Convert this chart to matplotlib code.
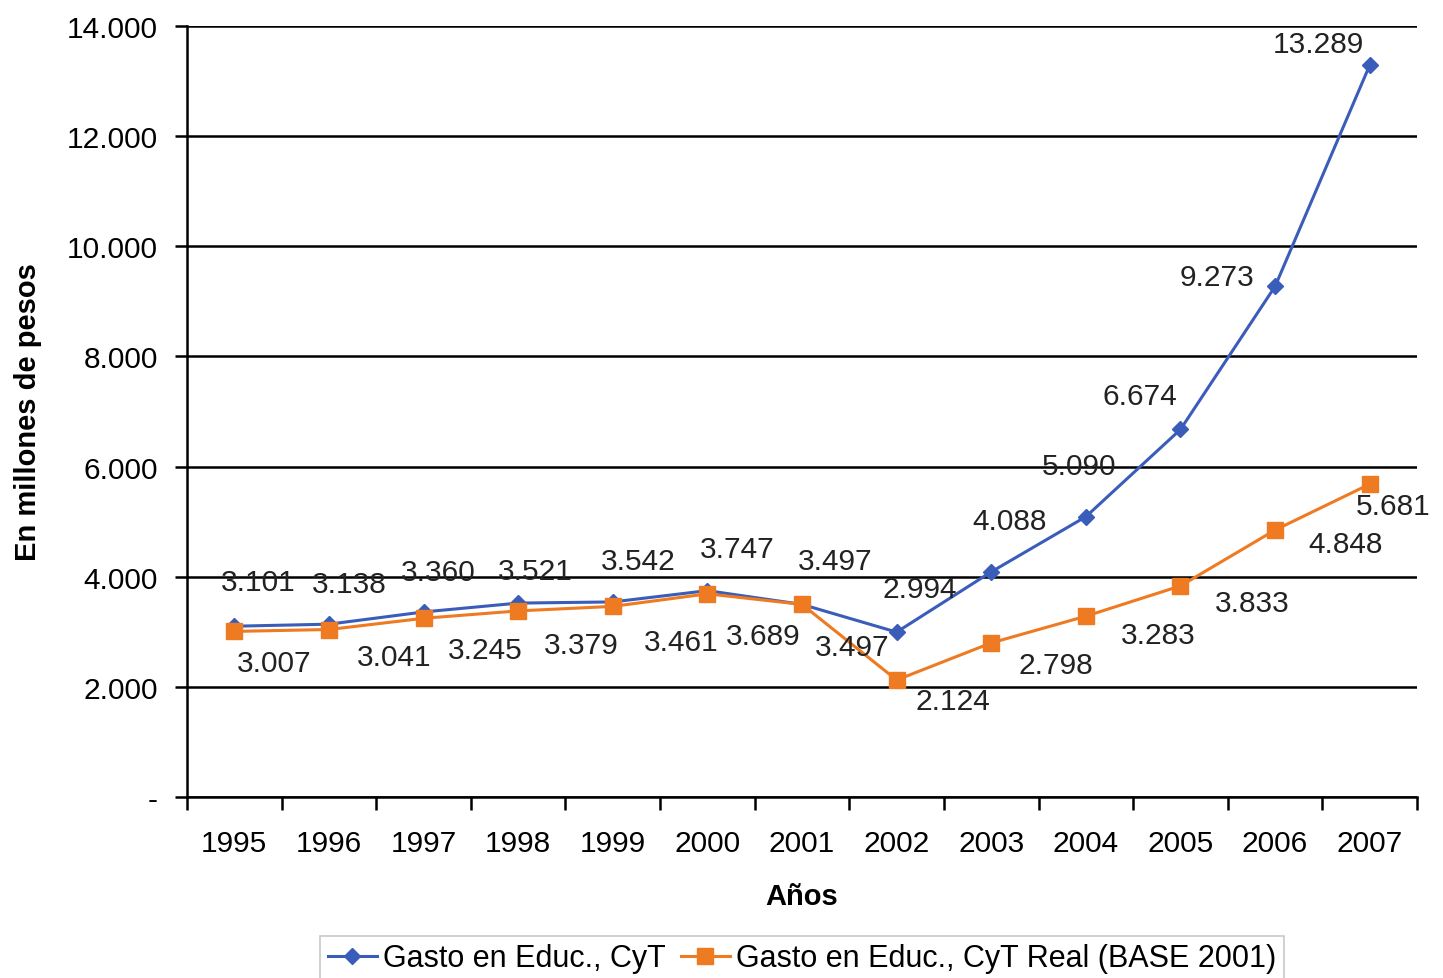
import numpy as np
import matplotlib.pyplot as plt
from matplotlib.ticker import FuncFormatter, FixedLocator

plt.rcParams['font.family'] = ['Liberation Sans', 'DejaVu Sans']

years = ['1995', '1996', '1997', '1998', '1999', '2000', '2001',
         '2002', '2003', '2004', '2005', '2006', '2007']
gasto = [3101, 3138, 3360, 3521, 3542, 3747, 3497, 2994, 4088, 5090, 6674, 9273, 13289]
gasto_real = [3007, 3041, 3245, 3379, 3461, 3689, 3497, 2124, 2798, 3283, 3833, 4848, 5681]

# label offsets in pixels (dx, dy)
off_gasto = [(24, 44), (20, 40), (15, 40), (17, 32), (25, 41), (30, 42), (33, 43),
             (23, 43), (18, 51), (-7, 51), (-41, 33), (-58, 9), (-51, 21)]
off_real = [(40, -32), (65, -27), (62, -32), (63, -34), (68, -36), (56, -42), (50, -43),
            (56, -21), (65, -22), (72, -19), (72, -17), (70, -14), (23, -22)]

blue = '#3A5DBA'
orange = '#EE7A22'

fig = plt.figure(figsize=(14.43, 9.79), dpi=100)
ax = fig.add_axes([0.1296, 0.1849, 0.8524, 0.7875])

x = np.arange(len(years))
ax.plot(x, gasto, color=blue, lw=2.2, marker='D', ms=8, label='Gasto en Educ., CyT', zorder=3)
ax.plot(x, gasto_real, color=orange, lw=2.2, marker='s', ms=11, label='Gasto en Educ., CyT Real (BASE 2001)', zorder=4)

def fmt(v):
    return f'{v:,}'.replace(',', '.')

for i in range(len(years)):
    ax.annotate(fmt(gasto[i]), (x[i], gasto[i]), xytext=off_gasto[i], textcoords='offset pixels',
                ha='center', va='center', fontsize=21.5, color='#222222', zorder=5)
    ax.annotate(fmt(gasto_real[i]), (x[i], gasto_real[i]), xytext=off_real[i], textcoords='offset pixels',
                ha='center', va='center', fontsize=21.5, color='#222222', zorder=5)

ax.set_xlim(-0.5, len(years) - 0.5)
ax.set_ylim(0, 14000)
ax.set_yticks(np.arange(0, 14001, 2000))
ax.yaxis.set_major_formatter(FuncFormatter(lambda v, p: '-' if v == 0 else fmt(int(v))))
ax.yaxis.grid(True, color='black', lw=1.8)
ax.set_axisbelow(True)

ax.set_xticks(x)
ax.set_xticklabels(years)
ax.xaxis.set_minor_locator(FixedLocator(np.arange(-0.5, len(years), 1)))
ax.tick_params(axis='x', which='major', length=0, pad=23, labelsize=21.5)
ax.tick_params(axis='x', which='minor', length=9, width=1.8, direction='out')
ax.tick_params(axis='y', length=9, width=1.8, pad=12, labelsize=21.5)

for s in ['top', 'right']:
    ax.spines[s].set_visible(False)
for s in ['left', 'bottom']:
    ax.spines[s].set_linewidth(1.8)

ax.set_xlabel('Años', fontsize=21, fontweight='bold', labelpad=18)
ax.set_ylabel('En millones de pesos', fontsize=21, fontweight='bold', labelpad=18)

leg = ax.legend(loc='upper center', bbox_to_anchor=(0.5, -0.16), ncol=2, fontsize=22,
                frameon=True, fancybox=False, handlelength=1.6, handletextpad=0.2,
                columnspacing=0.5, borderpad=0.25, edgecolor='#BBBBBB')
leg.get_frame().set_linewidth(1.2)

fig.savefig('out.png', dpi=100)
